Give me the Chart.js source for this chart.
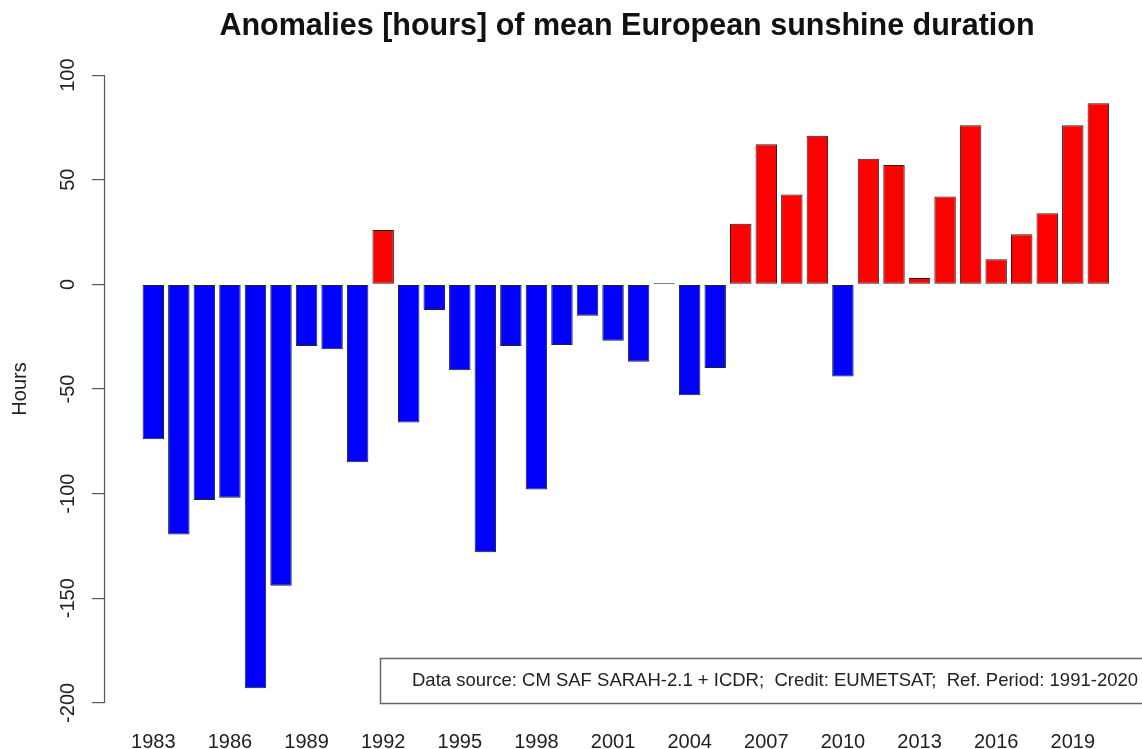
<!DOCTYPE html>
<html>
<head>
<meta charset="utf-8">
<script src="https://cdn.jsdelivr.net/npm/chart.js@4.4.1/dist/chart.umd.min.js"></script>
<style>
  html, body { margin: 0; padding: 0; background: #fff; overflow: hidden; }
  #wrap { width: 1142px; height: 749px; }
</style>
</head>
<body>
<div id="wrap"><canvas id="chart" width="1142" height="749"></canvas></div>
<script>
// datos
const years = [1983, 1984, 1985, 1986, 1987, 1988, 1989, 1990, 1991, 1992,
  1993, 1994, 1995, 1996, 1997, 1998, 1999, 2000, 2001, 2002,
  2003, 2004, 2005, 2006, 2007, 2008, 2009, 2010, 2011, 2012,
  2013, 2014, 2015, 2016, 2017, 2018, 2019, 2020];
const anomalies = [-74, -119.5, -103, -102, -193, -144, -29.5, -31, -85, 26,
  -66, -12.3, -41, -128, -29.5, -98, -29, -15, -27, -37,
  0.7, -53, -40, 29, 67, 43, 71, -44, 60, 57,
  3, 42, 76, 12, 24, 34, 76, 86.6];
const xTickYears = [1983, 1986, 1989, 1992, 1995, 1998, 2001, 2004, 2007, 2010, 2013, 2016, 2019];
const yTickValues = [-200, -150, -100, -50, 0, 50, 100];

const titleText = 'Anomalies [hours] of mean European sunshine duration';
const sourceText = 'Data source: CM SAF SARAH-2.1 + ICDR;  Credit: EUMETSAT;  Ref. Period: 1991-2020';
const FONT = '"Liberation Sans", Arial, Helvetica, sans-serif';

// título, línea del eje y caja de la fuente
const extras = {
  id: 'extras',
  afterDraw(chart) {
    const { ctx, chartArea } = chart;
    const y = chart.scales.y;
    ctx.save();
    // título
    ctx.fillStyle = '#111';
    ctx.font = 'bold 30.5px ' + FONT;
    ctx.textAlign = 'center';
    ctx.textBaseline = 'alphabetic';
    ctx.fillText(titleText, (chartArea.left + chartArea.right) / 2 + 4, 35);
    // eje y solo entre -200 y 100 (estilo R)
    const ax = Math.round(chartArea.left) + 0.5;
    ctx.strokeStyle = '#555';
    ctx.lineWidth = 1.2;
    ctx.beginPath();
    ctx.moveTo(ax, y.getPixelForValue(yTickValues[0]));
    ctx.lineTo(ax, y.getPixelForValue(yTickValues[yTickValues.length - 1]));
    ctx.stroke();
    // caja de la fuente de datos
    ctx.strokeStyle = '#666';
    ctx.lineWidth = 1.5;
    ctx.strokeRect(380.5, 658.5, chartArea.right + 20 - 380, 45);
    ctx.fillStyle = '#222';
    ctx.font = '18.5px ' + FONT;
    ctx.textAlign = 'left';
    ctx.textBaseline = 'middle';
    ctx.fillText(sourceText, 412, 681);
    ctx.restore();
  }
};

const ctx = document.getElementById('chart').getContext('2d');
new Chart(ctx, {
  type: 'bar',
  data: {
    datasets: [{
      label: 'Hours',
      data: years.map((yr, i) => ({ x: yr, y: anomalies[i] })),
      backgroundColor: anomalies.map(v => v >= 0 ? '#ff0000' : '#0000ff'),
      borderColor: '#222',
      borderWidth: 1,
      borderSkipped: false,
      barPercentage: 0.84,
      categoryPercentage: 1.0
    }]
  },
  options: {
    responsive: false,
    animation: false,
    devicePixelRatio: 1,
    layout: { padding: { top: 50, right: 0, bottom: 0, left: 0 } },
    plugins: {
      legend: { display: false },
      title: { display: false },
      tooltip: { enabled: false }
    },
    scales: {
      x: {
        type: 'linear',
        offset: false,
        min: 1981.07,
        max: 2021.71,
        grid: { display: false },
        border: { display: false },
        afterBuildTicks: scale => { scale.ticks = xTickYears.map(v => ({ value: v })); },
        afterFit: scale => { scale.height = 21; },
        ticks: {
          color: '#222',
          font: { family: FONT, size: 20 },
          padding: -6,
          maxRotation: 0,
          callback: v => String(v)
        }
      },
      y: {
        min: -212,
        max: 112,
        grid: {
          display: true,
          drawOnChartArea: false,
          drawTicks: true,
          tickLength: 12,
          color: '#555',
          lineWidth: 1.2
        },
        border: { display: false },
        afterBuildTicks: scale => { scale.ticks = yTickValues.map(v => ({ value: v })); },
        afterFit: scale => { scale.width = 104; },
        ticks: {
          color: '#222',
          font: { family: FONT, size: 20 },
          minRotation: 90,
          maxRotation: 90,
          crossAlign: 'center',
          padding: 4
        },
        title: {
          display: true,
          text: 'Hours',
          color: '#222',
          font: { family: FONT, size: 20 },
          padding: 8
        }
      }
    }
  },
  plugins: [extras]
});
</script>
</body>
</html>
